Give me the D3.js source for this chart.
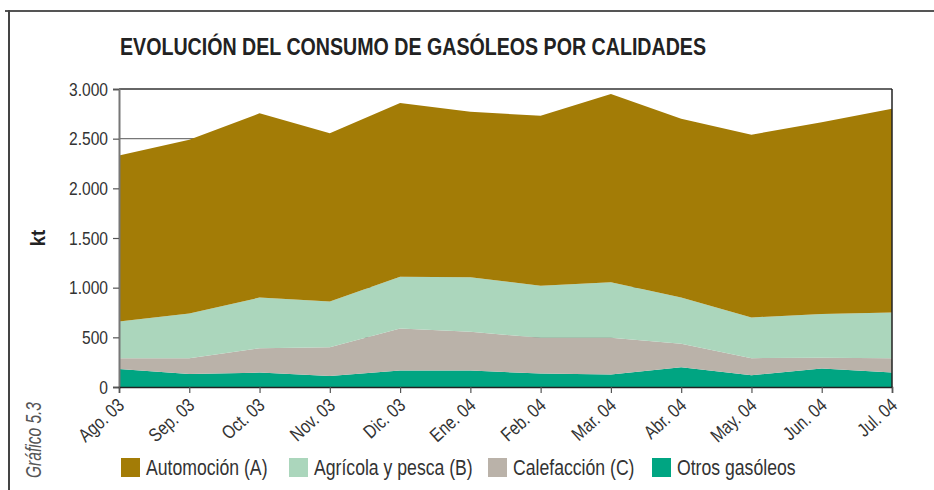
<!DOCTYPE html>
<html><head><meta charset="utf-8">
<script src="https://cdn.jsdelivr.net/npm/d3@7/dist/d3.min.js"></script>
<style>
body{margin:0;background:#fff;}
svg{display:block;}
text{font-family:"Liberation Sans",Arial,sans-serif;}
</style></head>
<body><svg id="c" width="934" height="490"></svg>
<script>
const categories = ["Ago. 03","Sep. 03","Oct. 03","Nov. 03","Dic. 03","Ene. 04","Feb. 04","Mar. 04","Abr. 04","May. 04","Jun. 04","Jul. 04"];
const otros      = [180,130,145,110,165,165,135,125,200,118,185,145];
const calefaccion= [110,160,245,290,425,390,360,370,235,172,110,145];
const agricola   = [370,450,510,460,520,550,525,560,465,410,440,460];
const automocion = [1670,1750,1855,1695,1750,1665,1710,1895,1800,1840,1930,2050];
const seriesNames = ["Otros gasóleos","Calefacción (C)","Agrícola y pesca (B)","Automoción (A)"];
const seriesColors = ["#00a582","#bab2a9","#abd6bc","#a37c06"];
const yTicks = [0,500,1000,1500,2000,2500,3000];
const title = "EVOLUCIÓN DEL CONSUMO DE GASÓLEOS POR CALIDADES";

const svg = d3.select("#c");
const L=119, R=892, T=89, B=387;
const x = d3.scalePoint().domain(categories).range([L,R]);
const y = d3.scaleLinear().domain([0,3000]).range([B,T]);
const fmt = d => d3.format(",")(d).replace(/,/g,".");
function narrow(sel, f){ sel.each(function(){ const w=this.getComputedTextLength(); d3.select(this).attr("textLength",w*(f||0.82)).attr("lengthAdjust","spacingAndGlyphs"); }); }

// outer frame
svg.append("line").attr("x1",5).attr("x2",934).attr("y1",11).attr("y2",11).attr("stroke","#555").attr("stroke-width",2);
svg.append("line").attr("x1",9).attr("x2",9).attr("y1",10).attr("y2",490).attr("stroke","#444").attr("stroke-width",2);

// title
svg.append("text").attr("x",120).attr("y",55).attr("font-size",24).attr("font-weight","bold").attr("fill","#222")
  .attr("textLength",586).attr("lengthAdjust","spacingAndGlyphs").text(title);

// gridlines
svg.append("g").selectAll("line").data(yTicks.filter(d=>d>0&&d<3000)).join("line")
  .attr("x1",L).attr("x2",R).attr("y1",d=>y(d)).attr("y2",d=>y(d)).attr("stroke","#777").attr("stroke-width",1.2);

// stacked area
const rows = categories.map((c,i)=>({cat:c, o:otros[i], c:calefaccion[i], a:agricola[i], m:automocion[i]}));
const stack = d3.stack().keys(["o","c","a","m"]);
const layers = stack(rows);
const area = d3.area().x(d=>x(d.data.cat)).y0(d=>y(d[0])).y1(d=>y(d[1]));
svg.append("g").selectAll("path").data(layers).join("path")
  .attr("d",area).attr("fill",(d,i)=>seriesColors[i]);

// frame of plot
svg.append("line").attr("x1",L).attr("x2",R).attr("y1",T).attr("y2",T).attr("stroke","#333").attr("stroke-width",1.5);
svg.append("line").attr("x1",R).attr("x2",R).attr("y1",T).attr("y2",B).attr("stroke","#222").attr("stroke-width",1.5);

// y axis
const yAxis = svg.append("g").attr("transform",`translate(${L},0)`)
  .call(d3.axisLeft(y).tickValues(yTicks).tickFormat(fmt).tickSize(6).tickPadding(5));
yAxis.select(".domain").attr("stroke","#777").attr("stroke-width",2);
yAxis.selectAll(".tick line").attr("stroke","#555").attr("stroke-width",1.2);
yAxis.selectAll(".tick text").attr("font-size",19).attr("fill","#333").attr("font-family",null).call(narrow);

// x axis
const xAxis = svg.append("g").attr("transform",`translate(0,${B})`)
  .call(d3.axisBottom(x).tickSize(6).tickPadding(4));
xAxis.select(".domain").attr("stroke","#222").attr("stroke-width",1.5);
xAxis.selectAll(".tick line").attr("stroke","#555").attr("stroke-width",1.2);
xAxis.selectAll(".tick text").attr("font-size",19).attr("fill","#333").attr("font-family",null)
  .attr("text-anchor","end").attr("dy",null).attr("y",0)
  .attr("transform","translate(6,20) rotate(-42)").call(narrow);

// y label
svg.append("text").attr("transform","translate(45,238) rotate(-90)").attr("text-anchor","middle")
  .attr("font-size",21).attr("font-weight","bold").attr("fill","#222").text("kt").call(narrow, 0.88);

// Gráfico label
svg.append("text").attr("transform","translate(41,440) rotate(-90)").attr("text-anchor","middle")
  .attr("font-size",22).attr("font-style","italic").attr("fill","#555").text("Gráfico 5.3")
  .attr("textLength",76).attr("lengthAdjust","spacingAndGlyphs");

// legend
const legendOrder = [3,2,1,0];
const legendX = [121,289,488,652];
const lg = svg.append("g").selectAll("g").data(legendOrder).join("g")
  .attr("transform",(d,i)=>`translate(${legendX[i]},458)`);
lg.append("rect").attr("width",19).attr("height",19).attr("fill",d=>seriesColors[d]);
lg.append("text").attr("x",25).attr("y",17).attr("font-size",21.5).attr("fill","#333").text(d=>seriesNames[d]).call(narrow);
</script></body></html>
